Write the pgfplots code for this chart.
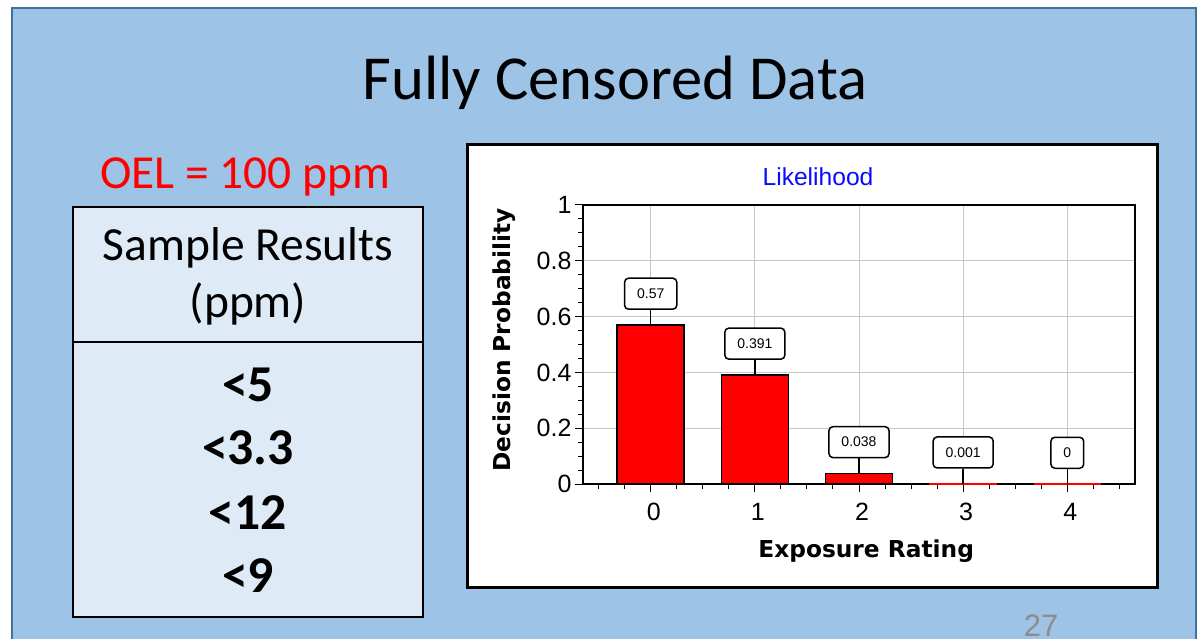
\documentclass[border=0pt]{standalone}
\usepackage{pgfplots}
\pgfplotsset{compat=1.18}
\usepackage{fontspec}
\setmainfont{Carlito}
\newfontfamily\slidefont{Carlito}
\newfontfamily\chartfont{Liberation Sans}
\newfontfamily\labelfont{DejaVu Sans}
\definecolor{slideblue}{HTML}{9DC3E6}
\definecolor{slideedge}{HTML}{41719C}
\definecolor{tablefill}{HTML}{DEEBF7}
\definecolor{pagenum}{HTML}{8C8C8C}
\definecolor{titleblue}{HTML}{0A0AFF}

% decision probabilities per exposure rating
\pgfplotstableread{
x y lab
0 0.57 0.57
1 0.391 0.391
2 0.038 0.038
}\mainbars
\pgfplotstableread{
x y lab
3 0.001 0.001
4 0 0
}\tinybars

\begin{document}
\begin{tikzpicture}[x=1pt,y=1pt]
\fill[white] (0,0) rectangle (1198,639);
% slide background, running off the bottom of the page
\fill[slideblue] (12,0) rectangle (1196,631);
\draw[slideedge, line width=1.5pt] (12,0) -- (12,631) -- (1196,631) -- (1196,0);
\node[anchor=base, inner sep=0pt, font=\slidefont\fontsize{62.6}{70}\selectfont] at (615,539) {Fully Censored Data};
\node[anchor=base, inner sep=0pt, text=red, font=\slidefont\fontsize{47.4}{52}\selectfont] at (245,450) {OEL = 100 ppm};
% sample table
\filldraw[fill=tablefill, draw=black, line width=2pt] (73,22) rectangle (423,432);
\draw[line width=2pt] (73,297) -- (423,297);
\begin{scope}[every node/.style={anchor=base, inner sep=0pt, font=\slidefont\fontsize{47.5}{52}\selectfont}]
\node at (248,378) {Sample Results};
\node at (248,321) {(ppm)};
\end{scope}
\begin{scope}[every node/.style={anchor=base, inner sep=0pt, font=\slidefont\bfseries\fontsize{51.7}{56}\selectfont}]
\node at (248,237) {<5};
\node at (248,174) {<3.3};
\node at (248,110) {<12};
\node at (248,47) {<9};
\end{scope}
% chart frame
\filldraw[fill=white, draw=black, line width=3pt] (467,52) rectangle (1157,494);
\node[anchor=base, inner sep=0pt, text=titleblue, font=\chartfont\fontsize{24.6}{26}\selectfont] at (818,453) {Likelihood};
\begin{axis}[
  at={(583pt,155pt)}, anchor=south west,
  scale only axis, width=552pt, height=279pt,
  xmin=-0.65, xmax=4.65, ymin=0, ymax=1,
  xtick={0,1,2,3,4}, xticklabels={0,1,2,3,4},
  ytick={0,0.2,0.4,0.6,0.8,1}, yticklabels={0,0.2,0.4,0.6,0.8,1},
  minor xtick={-0.5,-0.25,0.25,0.5,0.75,1.25,1.5,1.75,2.25,2.5,2.75,3.25,3.5,3.75,4.25,4.5},
  minor ytick={0.05,0.1,0.15,0.25,0.3,0.35,0.45,0.5,0.55,0.65,0.7,0.75,0.85,0.9,0.95},
  xtick pos=bottom, ytick pos=left,
  tick align=outside, major tick length=8pt, minor tick length=5pt,
  tick style={black, line width=1pt},
  grid=major, major grid style={black!22, line width=1pt},
  axis line style={line width=2.2pt},
  ticklabel style={font=\chartfont\fontsize{25}{25}\selectfont},
  xticklabel style={xshift=3pt, yshift=-8pt},
  xlabel={Exposure Rating}, ylabel={Decision Probability},
  label style={font=\labelfont\bfseries\fontsize{23.3}{24}\selectfont},
  xlabel style={at={(axis description cs:0.513,-0.265)}, anchor=base},
  ylabel style={at={(axis description cs:-0.143,0.516)}, anchor=center},
  nodes near coords,
  point meta=explicit symbolic,
  every node near coord/.style={font=\chartfont\fontsize{14}{14}\selectfont,
    draw=black, line width=1.5pt, fill=white, rounded corners=4pt,
    inner xsep=12.5pt, inner ysep=0pt, minimum height=31pt,
    anchor=south, yshift=15pt},
]
\addplot[ybar, bar shift=0pt, bar width=67pt, fill=red, draw=black, line width=1.5pt,
  error bars/.cd, y dir=plus, y fixed=0.0538, error mark=none,
  error bar style={black, line width=1.5pt}]
  table[x=x, y=y, meta=lab] {\mainbars};
\addplot[ybar, bar shift=0pt, bar width=67pt, fill=red, draw=red, line width=1.5pt,
  error bars/.cd, y dir=plus, y fixed=0.0538, error mark=none,
  error bar style={black, line width=1.5pt}]
  table[x=x, y=y, meta=lab] {\tinybars};
\end{axis}
\node[anchor=base, inner sep=0pt, text=pagenum, font=\chartfont\fontsize{31}{32}\selectfont] at (1041,3) {27};
\end{tikzpicture}
\end{document}
